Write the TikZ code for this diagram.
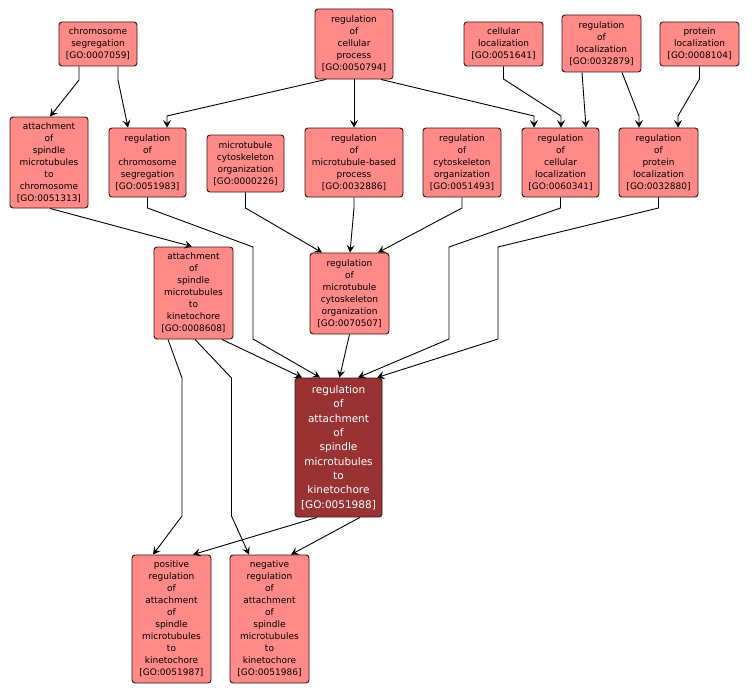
\documentclass[tikz,border=0pt]{standalone}
\usepackage{fontspec}
\setmainfont{DejaVu Sans}
\usetikzlibrary{arrows.meta}
\definecolor{boxfill}{HTML}{FF8A88}
\definecolor{boxline}{HTML}{3A1414}
\definecolor{mainfill}{HTML}{993333}
\tikzset{
  gobox/.style={draw=boxline, fill=boxfill, rounded corners=3pt, line width=0.9pt,
    align=center, inner sep=0pt, font=\fontsize{9}{12}\selectfont, text=black},
  mainbox/.style={gobox, fill=mainfill, text=white, font=\fontsize{10.5}{14.3}\selectfont},
  edge/.style={draw=black, line width=0.9pt, -{Stealth[length=7.5pt,width=8pt,inset=3pt]}}
}
\begin{document}
\begin{tikzpicture}[x=1pt,y=-1pt]
\useasboundingbox (0,0) rectangle (752,693);
% top row
\node[gobox, minimum width=78pt, minimum height=44pt] (chrsegr) at (98,44) {chromosome\\segregation\\{[GO:0007059]}};
\node[gobox, minimum width=78pt, minimum height=70pt] (regcellproc) at (354,44) {regulation\\of\\cellular\\process\\{[GO:0050794]}};
\node[gobox, minimum width=79pt, minimum height=44pt] (cellloc) at (503.5,44) {cellular\\localization\\{[GO:0051641]}};
\node[gobox, minimum width=79pt, minimum height=57pt] (regloc) at (601.5,43.5) {regulation\\of\\localization\\{[GO:0032879]}};
\node[gobox, minimum width=79pt, minimum height=44pt] (protloc) at (699.5,44) {protein\\localization\\{[GO:0008104]}};
% second row
\node[gobox, minimum width=78pt, minimum height=91pt] (attchr) at (49,162.5) {attachment\\of\\spindle\\microtubules\\to\\chromosome\\{[GO:0051313]}};
\node[gobox, minimum width=77pt, minimum height=69pt] (regchrseg) at (147.5,162.5) {regulation\\of\\chromosome\\segregation\\{[GO:0051983]}};
\node[gobox, minimum width=77pt, minimum height=57pt] (mtcyto) at (245.5,163.5) {microtubule\\cytoskeleton\\organization\\{[GO:0000226]}};
\node[gobox, minimum width=98pt, minimum height=69pt] (regmtb) at (354,162.5) {regulation\\of\\microtubule-based\\process\\{[GO:0032886]}};
\node[gobox, minimum width=78pt, minimum height=69pt] (regcyto) at (462,162.5) {regulation\\of\\cytoskeleton\\organization\\{[GO:0051493]}};
\node[gobox, minimum width=77pt, minimum height=69pt] (regcellloc) at (560.5,162.5) {regulation\\of\\cellular\\localization\\{[GO:0060341]}};
\node[gobox, minimum width=79pt, minimum height=69pt] (regprotloc) at (658.5,162.5) {regulation\\of\\protein\\localization\\{[GO:0032880]}};
% third row
\node[gobox, minimum width=79pt, minimum height=92pt] (attkin) at (193.5,293) {attachment\\of\\spindle\\microtubules\\to\\kinetochore\\{[GO:0008608]}};
\node[gobox, minimum width=79pt, minimum height=81pt] (regmtcyto) at (349.5,293.5) {regulation\\of\\microtubule\\cytoskeleton\\organization\\{[GO:0070507]}};
% main
\node[mainbox, minimum width=87pt, minimum height=139pt] (main) at (338.5,447.5) {regulation\\of\\attachment\\of\\spindle\\microtubules\\to\\kinetochore\\{[GO:0051988]}};
% bottom
\node[gobox, minimum width=79pt, minimum height=128pt] (pos) at (171.5,619) {positive\\regulation\\of\\attachment\\of\\spindle\\microtubules\\to\\kinetochore\\{[GO:0051987]}};
\node[gobox, minimum width=79pt, minimum height=128pt] (neg) at (269.5,619) {negative\\regulation\\of\\attachment\\of\\spindle\\microtubules\\to\\kinetochore\\{[GO:0051986]}};
% edges
\draw[edge] ([xshift=-19pt]chrsegr.south) -- (79,80) -- ([xshift=1pt]attchr.north);
\draw[edge] ([xshift=20pt]chrsegr.south) -- (118,80) -- ([xshift=-19.5pt]regchrseg.north);
\draw[edge] ([xshift=-28pt]regcellproc.south) -- (167,116) -- ([xshift=19.5pt]regchrseg.north);
\draw[edge] (regcellproc.south) -- (regmtb.north);
\draw[edge] ([xshift=27pt]regcellproc.south) -- (534,116) -- ([xshift=-26.5pt]regcellloc.north);
\draw[edge] (cellloc.south) -- (503.5,79) -- (561,116) -- ([xshift=0.5pt]regcellloc.north);
\draw[edge] ([xshift=-19.5pt]regloc.south) -- ([xshift=25.5pt]regcellloc.north);
\draw[edge] ([xshift=20.5pt]regloc.south) -- (639,116) -- ([xshift=-19.5pt]regprotloc.north);
\draw[edge] (protloc.south) -- (699.5,79) -- (678,116) -- ([xshift=19.5pt]regprotloc.north);
\draw[edge] ([xshift=1pt]attchr.south) -- ([xshift=-1.5pt]attkin.north);
\draw[edge] (regchrseg.south) -- (147.5,208) -- (253,247) -- (253,339) -- ([xshift=-18.5pt]main.north);
\draw[edge] (mtcyto.south) -- (245.5,208) -- ([xshift=-27.5pt]regmtcyto.north);
\draw[edge] (regmtb.south) -- (354,208) -- ([xshift=0.5pt]regmtcyto.north);
\draw[edge] (regcyto.south) -- (462,208) -- ([xshift=28.5pt]regmtcyto.north);
\draw[edge] (regcellloc.south) -- (560.5,208) -- (449,247) -- (449,339) -- ([xshift=19.5pt]main.north);
\draw[edge] (regprotloc.south) -- (658.5,208) -- (498,247) -- (498,339) -- ([xshift=38.5pt]main.north);
\draw[edge] (regmtcyto.south) -- ([xshift=1pt]main.north);
\draw[edge] ([xshift=28.5pt]attkin.south) -- ([xshift=-36.5pt]main.north);
\draw[edge] ([xshift=-25.5pt]attkin.south) -- (182,378) -- (182,516) -- ([xshift=-18.5pt]pos.north);
\draw[edge] ([xshift=1.5pt]attkin.south) -- (231.5,378) -- (231.5,516) -- ([xshift=-20.5pt]neg.north);
\draw[edge] ([xshift=-21.5pt]main.south) -- ([xshift=21.5pt]pos.north);
\draw[edge] ([xshift=21.5pt]main.south) -- ([xshift=21.5pt]neg.north);
\end{tikzpicture}
\end{document}
